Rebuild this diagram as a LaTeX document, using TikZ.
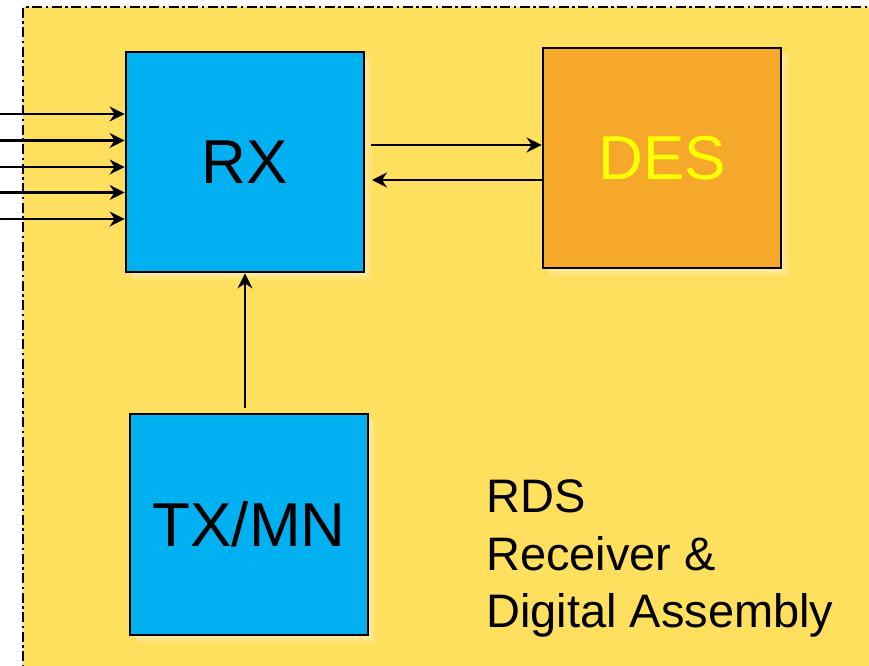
\documentclass[tikz,border=0pt]{standalone}
\usepackage{fontspec}
\setmainfont{Liberation Sans}
\usetikzlibrary{arrows.meta}
\definecolor{bgyellow}{HTML}{FFDF5E}
\definecolor{boxblue}{HTML}{00B0F0}
\definecolor{boxorange}{HTML}{F6A82B}
\definecolor{desyellow}{HTML}{FFFF00}
\tikzset{
  blockbox/.style={draw=black, line width=2.8pt, minimum width=238pt, minimum height=220pt,
    inner sep=0pt, font=\fontsize{62}{70}\selectfont},
  arr/.style={line width=2.5pt, -{Stealth[length=15pt,width=15pt,inset=5pt]}},
  border/.style={line width=2.8pt, dash pattern=on 10pt off 3.5pt on 2.5pt off 3.5pt},
  glow/.style={fill=white, fill opacity=0.12, draw=none},
}
\begin{document}
\begin{tikzpicture}[x=1pt,y=-1pt]
\useasboundingbox (0,0) rectangle (869,665);
\clip (0,0) rectangle (869,665);
\fill[white] (0,0) rectangle (869,665);
\fill[bgyellow] (23,7) rectangle (900,700);
\draw[border] (23,700) -- (23,7) -- (900,7);
\foreach \cx/\cy in {245/162,662/158,249/524.5}{
  \foreach \s in {2,4,6,8}{
    \fill[glow] (\cx-119+4+\s*0.3,\cy-110+4+\s*0.3) rectangle (\cx+119+\s,\cy+110+\s);
  }
}
\node[blockbox, fill=boxblue] (rx) at (245,162) {RX};
\node[blockbox, fill=boxorange, text=desyellow] (des) at (662,158) {DES};
\node[blockbox, fill=boxblue, minimum height=221pt] (tx) at (249,524.5) {TX/MN};
\node[anchor=north west, align=left, inner sep=0pt, font=\fontsize{47}{57.5}\selectfont] (rds) at (486,479.5)
  {RDS\\Receiver \&\\Digital Assembly};
\foreach \i/\yy in {1/114,2/140.5,3/167,4/192.5,5/219}{
  \coordinate (in\i) at (0,\yy);
  \draw[arr] (in\i) -- (rx.west |- in\i);
}
\coordinate (f1) at (371,145);
\coordinate (b1) at (372,180);
\draw[arr] (f1) -- (des.west |- f1);
\draw[arr] (des.west |- b1) -- (b1);
\coordinate (up) at (245,408);
\draw[arr] (up) -- (rx.south);
\end{tikzpicture}
\end{document}
